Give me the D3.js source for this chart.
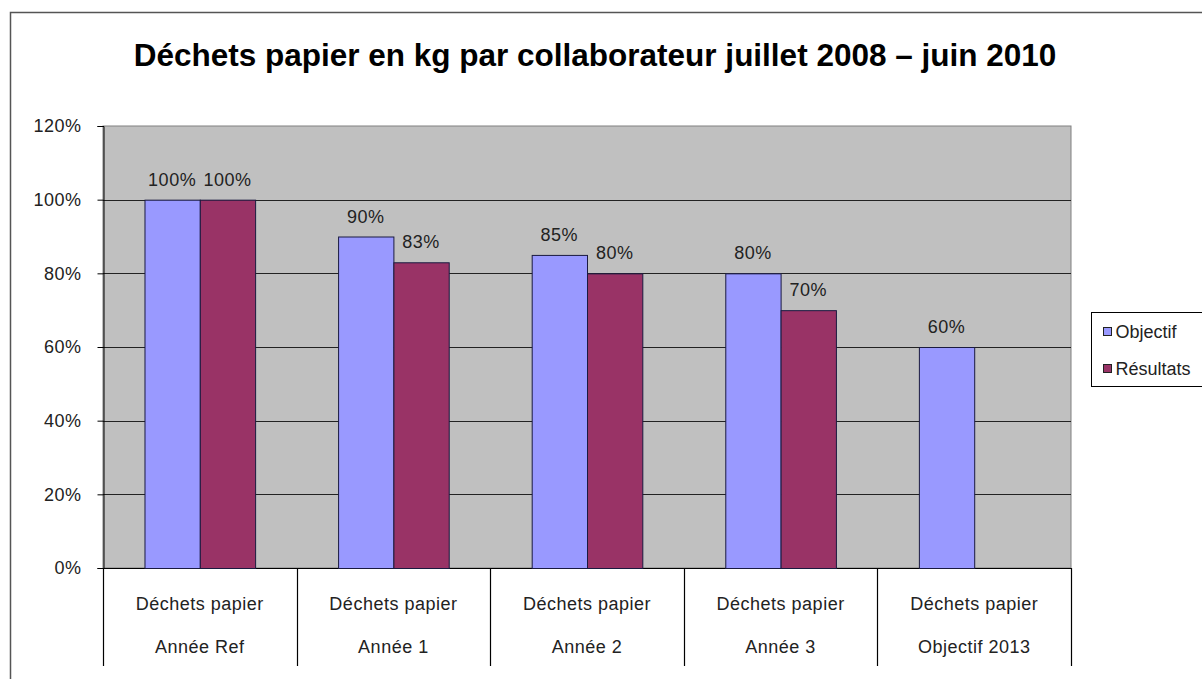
<!DOCTYPE html>
<html>
<head>
<meta charset="utf-8">
<script src="https://cdn.jsdelivr.net/npm/d3@7"></script>
<style>
  html, body { margin: 0; padding: 0; background: #fff; }
  svg { display: block; }
  text { font-family: "Liberation Sans", Arial, sans-serif; }
</style>
</head>
<body>
<svg id="chart" width="1202" height="679"></svg>
<script>
// Data
const categories = ["Année Ref", "Année 1", "Année 2", "Année 3", "Objectif 2013"];
const categoryGroup = "Déchets papier";
const objectif = [100, 90, 85, 80, 60];
const resultats = [100, 83, 80, 70, null];
const seriesNames = ["Objectif", "Résultats"];
const yTicks = [0, 20, 40, 60, 80, 100, 120];
const chartTitle = "Déchets papier en kg par collaborateur juillet 2008 – juin 2010";

const colors = { "Objectif": "#9999FF", "Résultats": "#993366" };
const labelSize = 18;
const labelSpacing = 0.5;

const svg = d3.select("#chart");

// outer frame
svg.append("rect")
  .attr("x", 10.5).attr("y", 12.5)
  .attr("width", 1220).attr("height", 700)
  .attr("fill", "#fff").attr("stroke", "#555").attr("stroke-width", 1.5);

// title
svg.append("text")
  .attr("x", 595).attr("y", 66)
  .attr("text-anchor", "middle")
  .attr("font-size", 31.5).attr("font-weight", "bold")
  .attr("fill", "#000")
  .text(chartTitle);

const plot = { left: 103, right: 1071, top: 126, bottom: 568 };

const x = d3.scaleBand().domain(categories)
  .range([plot.left, plot.right]).paddingInner(0).paddingOuter(0);
const inner = d3.scaleBand().domain(seriesNames)
  .range([0, x.bandwidth()]).paddingInner(0).paddingOuter(0.75);
const y = d3.scaleLinear().domain([0, 120]).range([plot.bottom, plot.top]);

// plot background
svg.append("rect")
  .attr("x", plot.left).attr("y", plot.top)
  .attr("width", plot.right - plot.left).attr("height", plot.bottom - plot.top)
  .attr("fill", "#C0C0C0").attr("stroke", "#808080").attr("stroke-width", 1);

// gridlines
svg.append("g").selectAll("line")
  .data(yTicks.filter(d => d > 0 && d < 120))
  .join("line")
  .attr("x1", plot.left).attr("x2", plot.right)
  .attr("y1", d => Math.round(y(d)) + 0.5).attr("y2", d => Math.round(y(d)) + 0.5)
  .attr("stroke", "#222").attr("stroke-width", 1);

// y axis
const yAxis = svg.append("g")
  .attr("transform", `translate(${plot.left + 0.5},0)`)
  .call(d3.axisLeft(y).tickValues(yTicks).tickFormat(d => d + "%").tickSize(6).tickPadding(16));
yAxis.select(".domain").attr("stroke", "#000");
yAxis.selectAll(".tick line").attr("stroke", "#000");
yAxis.selectAll(".tick text")
  .attr("font-size", labelSize).attr("fill", "#222")
  .attr("letter-spacing", labelSpacing)
  .attr("font-family", "'Liberation Sans', Arial, sans-serif");

// x axis baseline
svg.append("line")
  .attr("x1", plot.left).attr("x2", plot.right)
  .attr("y1", plot.bottom + 0.5).attr("y2", plot.bottom + 0.5)
  .attr("stroke", "#000");

// category separators
const seps = categories.map(c => x(c)).concat([plot.right]);
svg.append("g").selectAll("line").data(seps).join("line")
  .attr("x1", d => Math.round(d) + 0.5).attr("x2", d => Math.round(d) + 0.5)
  .attr("y1", plot.bottom).attr("y2", 666)
  .attr("stroke", "#000").attr("stroke-width", 1.2);

// category labels (two levels)
const catG = svg.append("g").selectAll("g").data(categories).join("g")
  .attr("transform", d => `translate(${x(d) + x.bandwidth() / 2},0)`);
catG.append("text").attr("y", 610).attr("text-anchor", "middle")
  .attr("font-size", labelSize).attr("letter-spacing", labelSpacing).attr("fill", "#222")
  .text(categoryGroup);
catG.append("text").attr("y", 653).attr("text-anchor", "middle")
  .attr("font-size", labelSize).attr("letter-spacing", labelSpacing).attr("fill", "#222")
  .text(d => d);

// bars
const rows = [];
categories.forEach((c, i) => {
  rows.push({ cat: c, s: "Objectif", v: objectif[i] });
  if (resultats[i] != null) rows.push({ cat: c, s: "Résultats", v: resultats[i] });
});

svg.append("g").selectAll("rect").data(rows).join("rect")
  .attr("x", d => x(d.cat) + inner(d.s) + 0.5)
  .attr("y", d => y(d.v) + 0.5)
  .attr("width", inner.bandwidth())
  .attr("height", d => plot.bottom - y(d.v))
  .attr("fill", d => colors[d.s])
  .attr("stroke", "#1a1a40").attr("stroke-width", 1);

// value labels
svg.append("g").selectAll("text").data(rows).join("text")
  .attr("x", d => x(d.cat) + inner(d.s) + inner.bandwidth() / 2)
  .attr("y", d => y(d.v) - 14)
  .attr("text-anchor", "middle")
  .attr("font-size", labelSize).attr("letter-spacing", labelSpacing).attr("fill", "#222")
  .text(d => d.v + "%");

// legend
const lg = svg.append("g").attr("transform", "translate(1091.5,312.5)");
lg.append("rect").attr("width", 130).attr("height", 74)
  .attr("fill", "#fff").attr("stroke", "#000");
seriesNames.forEach((s, i) => {
  const yy = 19 + i * 37;
  lg.append("rect").attr("x", 12).attr("y", yy - 4).attr("width", 8).attr("height", 8)
    .attr("fill", colors[s]).attr("stroke", "#222");
  lg.append("text").attr("x", 24).attr("y", yy + 6)
    .attr("font-size", labelSize).attr("fill", "#222").text(s);
});
</script>
</body>
</html>
